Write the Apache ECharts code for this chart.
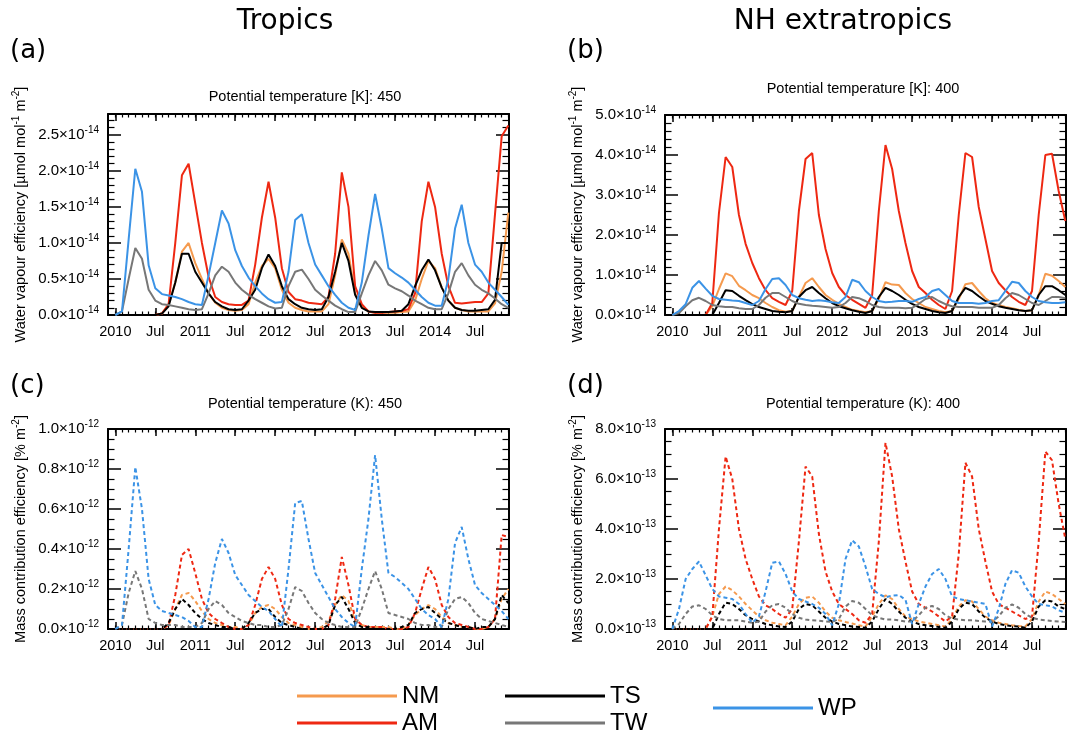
<!DOCTYPE html>
<html><head><meta charset="utf-8">
<script src="https://cdn.jsdelivr.net/npm/echarts@6/dist/echarts.min.js"></script>
<style>html,body{margin:0;padding:0;background:#fff}#c{width:1067px;height:736px}</style>
</head><body><div id="c"></div>
<script>
// ---- x axis: month index 0 = Jan 2010 ... 59 = Dec 2014 ----
const xTickMonths = [0, 6, 12, 18, 24, 30, 36, 42, 48, 54];
const xTickLabels = ['2010', 'Jul', '2011', 'Jul', '2012', 'Jul', '2013', 'Jul', '2014', 'Jul'];
const allMonths = Array.from({length: 60}, (_, i) => i);

// ---- (a) Tropics, water vapour efficiency, units 1e-14 ----
const a_NM = [0,0,0,0,0,0,0,0.02,0.15,0.45,0.88,1.0,0.72,0.5,0.3,0.17,0.1,0.07,0.06,0.07,0.15,0.45,0.68,0.78,0.65,0.35,0.17,0.1,0.07,0.05,0.05,0.05,0.15,0.55,1.05,0.85,0.3,0.12,0.05,0.03,0.03,0.03,0.03,0.04,0.05,0.2,0.5,0.75,0.65,0.38,0.2,0.1,0.07,0.05,0.05,0.05,0.05,0.16,0.6,1.42];
const a_AM = [0,0,0,0,0,0,0,0.02,0.15,1.0,1.94,2.1,1.55,1.0,0.53,0.25,0.18,0.15,0.14,0.14,0.2,0.7,1.35,1.85,1.35,0.65,0.32,0.22,0.2,0.17,0.16,0.15,0.25,0.85,1.98,1.5,0.4,0.15,0.05,0.03,0.03,0.04,0.05,0.06,0.08,0.3,1.3,1.85,1.5,0.85,0.4,0.17,0.16,0.17,0.18,0.18,0.3,1.4,2.48,2.63];
const a_TS = [0,0,0,0,0,0,0,0.02,0.12,0.45,0.85,0.85,0.6,0.45,0.3,0.18,0.12,0.08,0.07,0.08,0.2,0.35,0.65,0.84,0.68,0.4,0.22,0.15,0.1,0.08,0.07,0.08,0.25,0.6,1.0,0.75,0.28,0.1,0.05,0.04,0.04,0.04,0.05,0.06,0.15,0.4,0.62,0.77,0.62,0.38,0.2,0.1,0.07,0.06,0.06,0.07,0.08,0.21,1.0,1.0];
const a_TW = [0,0.05,0.5,0.93,0.78,0.35,0.2,0.15,0.14,0.12,0.1,0.08,0.07,0.08,0.3,0.55,0.67,0.6,0.45,0.35,0.28,0.22,0.17,0.12,0.09,0.1,0.4,0.6,0.63,0.5,0.35,0.27,0.2,0.13,0.08,0.04,0.04,0.3,0.55,0.75,0.62,0.42,0.37,0.33,0.27,0.2,0.15,0.1,0.08,0.08,0.3,0.6,0.72,0.55,0.42,0.35,0.3,0.23,0.15,0.1];
const a_WP = [0,0.05,1.05,2.03,1.71,0.69,0.37,0.29,0.27,0.25,0.22,0.18,0.15,0.14,0.55,1.0,1.45,1.27,0.9,0.68,0.52,0.4,0.3,0.22,0.17,0.18,0.6,1.32,1.4,1.0,0.7,0.55,0.4,0.28,0.17,0.1,0.07,0.45,1.1,1.68,1.2,0.65,0.58,0.52,0.45,0.35,0.25,0.17,0.13,0.13,0.5,1.2,1.53,1.0,0.7,0.6,0.45,0.35,0.25,0.14];

// ---- (b) NH extratropics, water vapour efficiency, units 1e-14 ----
const b_NM = [0,0,0,0,0,0,0.22,0.65,1.04,0.97,0.73,0.62,0.5,0.42,0.3,0.2,0.12,0.08,0.1,0.45,0.8,0.92,0.7,0.5,0.38,0.28,0.2,0.13,0.1,0.07,0.1,0.4,0.82,0.76,0.75,0.55,0.4,0.3,0.2,0.15,0.1,0.07,0.1,0.4,0.77,0.8,0.6,0.42,0.3,0.25,0.2,0.17,0.13,0.1,0.12,0.5,1.03,0.98,0.85,0.7];
const b_AM = [0,0,0,0,0,0,0.3,2.55,3.95,3.7,2.5,1.78,1.3,0.92,0.62,0.42,0.33,0.25,0.6,2.6,3.9,4.05,2.5,1.65,1.05,0.7,0.5,0.38,0.28,0.18,0.5,2.6,4.25,3.65,2.6,1.8,1.1,0.7,0.55,0.38,0.25,0.15,0.6,2.5,4.05,3.95,2.7,1.9,1.1,0.8,0.62,0.45,0.33,0.25,0.6,2.5,4.0,4.03,3.1,2.35];
const b_TS = [0,0,0,0,0,0,0,0.3,0.62,0.6,0.48,0.37,0.27,0.2,0.15,0.1,0.08,0.07,0.1,0.45,0.62,0.7,0.55,0.42,0.3,0.22,0.17,0.12,0.08,0.05,0.1,0.45,0.68,0.6,0.5,0.38,0.28,0.2,0.15,0.1,0.07,0.05,0.1,0.45,0.68,0.6,0.47,0.35,0.28,0.22,0.18,0.15,0.12,0.1,0.12,0.5,0.72,0.72,0.62,0.5];
const b_TW = [0,0.05,0.22,0.37,0.43,0.35,0.25,0.22,0.2,0.2,0.17,0.15,0.15,0.25,0.43,0.55,0.55,0.45,0.35,0.28,0.25,0.23,0.22,0.2,0.18,0.2,0.3,0.45,0.42,0.35,0.25,0.2,0.18,0.18,0.18,0.17,0.18,0.28,0.4,0.45,0.35,0.27,0.22,0.2,0.2,0.2,0.18,0.18,0.18,0.25,0.42,0.55,0.5,0.4,0.3,0.25,0.35,0.45,0.45,0.42];
const b_WP = [0,0.1,0.27,0.68,0.85,0.66,0.48,0.4,0.38,0.36,0.35,0.3,0.25,0.35,0.65,0.9,0.92,0.75,0.5,0.42,0.38,0.35,0.37,0.35,0.32,0.3,0.45,0.88,0.82,0.6,0.45,0.35,0.32,0.33,0.35,0.35,0.33,0.4,0.45,0.6,0.65,0.5,0.35,0.3,0.3,0.3,0.28,0.3,0.35,0.37,0.6,0.83,0.8,0.6,0.45,0.35,0.32,0.3,0.3,0.32];

// ---- (c) Tropics, mass contribution efficiency, units 1e-12 ----
const c_NM = [0,0,0,0,0,0,0,0,0.02,0.1,0.17,0.18,0.14,0.09,0.05,0.03,0.02,0.01,0.01,0,0.02,0.08,0.11,0.12,0.1,0.06,0.03,0.02,0.01,0,0,0.01,0.04,0.12,0.17,0.14,0.04,0.02,0.01,0.01,0.01,0.01,0,0,0.02,0.07,0.1,0.12,0.1,0.06,0.03,0.02,0.01,0.01,0,0,0.01,0.05,0.15,0.2];
const c_AM = [0,0,0,0,0,0,0,0,0.02,0.17,0.37,0.4,0.28,0.15,0.08,0.05,0.03,0.01,0,0,0.02,0.12,0.25,0.31,0.25,0.12,0.05,0.03,0.02,0.01,0,0,0.02,0.15,0.36,0.22,0.05,0.02,0.01,0.01,0.01,0,0,0,0.01,0.08,0.2,0.31,0.25,0.12,0.06,0.03,0.02,0.01,0,0,0.01,0.05,0.47,0.46];
const c_TS = [0,0,0,0,0,0,0,0,0.03,0.1,0.15,0.12,0.08,0.05,0.03,0.02,0.01,0.01,0,0,0.03,0.08,0.1,0.1,0.06,0.03,0.02,0.01,0,0,0,0,0.02,0.12,0.16,0.1,0.03,0.01,0.01,0,0,0,0,0.01,0.02,0.08,0.1,0.11,0.08,0.05,0.03,0.02,0.01,0.01,0,0.01,0.01,0.05,0.17,0.13];
const c_TW = [0,0.02,0.18,0.29,0.2,0.05,0.03,0.02,0.02,0.02,0.01,0.01,0.01,0.03,0.1,0.14,0.12,0.08,0.06,0.04,0.03,0.02,0.02,0.01,0.01,0.02,0.1,0.21,0.19,0.13,0.08,0.05,0.03,0.02,0.01,0.01,0.01,0.1,0.2,0.29,0.2,0.08,0.07,0.06,0.05,0.03,0.02,0.02,0.01,0.01,0.1,0.15,0.16,0.13,0.08,0.05,0.04,0.03,0.02,0.01];
const c_WP = [0,0.02,0.4,0.81,0.6,0.25,0.12,0.09,0.08,0.07,0.06,0.04,0.01,0.01,0.15,0.33,0.45,0.38,0.27,0.22,0.17,0.14,0.11,0.09,0.05,0.01,0.3,0.63,0.64,0.45,0.28,0.22,0.16,0.1,0.06,0.03,0.01,0.3,0.55,0.87,0.55,0.28,0.26,0.23,0.2,0.15,0.1,0.07,0.05,0.01,0.15,0.43,0.51,0.35,0.22,0.18,0.15,0.12,0.09,0.05];

// ---- (d) NH extratropics, mass contribution efficiency, units 1e-13 ----
const d_NM = [0,0,0,0,0,0,0.5,1.4,1.7,1.55,1.3,1.0,0.75,0.5,0.35,0.25,0.2,0.15,0.5,1.0,1.25,1.3,1.05,0.7,0.45,0.35,0.28,0.22,0.15,0.1,0.5,1.0,1.35,1.2,0.8,0.5,0.4,0.3,0.25,0.2,0.15,0.1,0.4,0.9,1.15,1.1,0.8,0.5,0.35,0.25,0.2,0.15,0.12,0.1,0.4,1.1,1.5,1.4,1.2,1.0];
const d_AM = [0,0,0,0,0,0,0.5,4.0,6.9,6.0,4.0,2.8,2.0,1.3,0.95,0.8,0.6,0.45,0.8,3.5,6.5,6.1,3.8,2.3,1.5,1.0,0.8,0.6,0.35,0.25,0.6,3.5,7.45,6.1,4.0,2.7,1.5,1.0,0.85,0.7,0.5,0.3,0.5,3.0,6.65,6.1,4.0,2.7,1.5,1.0,0.85,0.7,0.55,0.4,0.5,3.5,7.1,6.75,5.0,3.6];
const d_TS = [0,0,0,0,0,0,0,0.6,1.05,1.0,0.8,0.55,0.4,0.3,0.2,0.15,0.1,0.08,0.3,0.8,1.0,0.95,0.7,0.45,0.3,0.2,0.15,0.1,0.08,0.05,0.3,0.8,1.2,1.0,0.7,0.45,0.3,0.2,0.15,0.12,0.08,0.05,0.3,0.8,1.05,1.0,0.7,0.45,0.3,0.2,0.15,0.12,0.1,0.05,0.3,0.9,1.15,1.1,0.9,0.8];
const d_TW = [0,0.2,0.6,0.9,0.95,0.8,0.55,0.4,0.35,0.35,0.35,0.3,0.25,0.3,0.7,0.95,1.0,0.85,0.6,0.45,0.38,0.35,0.33,0.3,0.28,0.4,0.9,1.12,1.05,0.8,0.55,0.45,0.38,0.38,0.35,0.3,0.3,0.55,0.85,0.92,0.8,0.55,0.42,0.38,0.35,0.35,0.32,0.3,0.3,0.5,0.85,0.98,0.85,0.6,0.45,0.38,0.35,0.32,0.3,0.28];
const d_WP = [0,0.8,2.0,2.4,2.7,2.15,1.6,1.3,1.25,1.2,1.0,0.6,0.25,0.5,1.5,2.65,2.7,2.2,1.5,1.2,1.1,1.0,0.85,0.6,0.15,1.0,2.8,3.55,3.3,2.5,1.6,1.4,1.27,1.33,1.36,1.17,0.2,1.0,1.7,2.2,2.4,2.0,1.3,1.2,1.15,1.1,1.05,1.0,0.1,0.8,1.8,2.35,2.25,1.7,1.3,1.0,0.95,0.9,0.75,0.65];

const seriesNames = ['NM', 'AM', 'TS', 'TW', 'WP'];
const colors = {NM: '#F59A4E', AM: '#EE2812', TS: '#000000', TW: '#777777', WP: '#3B93E6'};
const F = "'Liberation Sans', Arial, sans-serif";

const panels = [
  {data: {NM: a_NM, AM: a_AM, TS: a_TS, TW: a_TW, WP: a_WP}, max: 2.79, interval: 0.5, minor: 5, exp: '-14', dashed: false,
   grid: {left: 108, top: 114, width: 401, height: 201}},
  {data: {NM: b_NM, AM: b_AM, TS: b_TS, TW: b_TW, WP: b_WP}, max: 5.0, interval: 1.0, minor: 5, exp: '-14', dashed: false,
   grid: {left: 665, top: 115, width: 401, height: 200}},
  {data: {NM: c_NM, AM: c_AM, TS: c_TS, TW: c_TW, WP: c_WP}, max: 1.0, interval: 0.2, minor: 4, exp: '-12', dashed: true,
   grid: {left: 108, top: 429, width: 401, height: 200}},
  {data: {NM: d_NM, AM: d_AM, TS: d_TS, TW: d_TW, WP: d_WP}, max: 8.0, interval: 2.0, minor: 4, exp: '-13', dashed: true,
   grid: {left: 665, top: 429, width: 401, height: 200}}
];

const XMIN = -1.1, XMAX = 59.1;
const black = {color: '#000', width: 1.5};
const grids = [], xAxes = [], yAxes = [], series = [];

panels.forEach((p, pi) => {
  grids.push(Object.assign({containLabel: false}, p.grid));
  const base = {gridIndex: pi, type: 'value', min: XMIN, max: XMAX, splitLine: {show: false}};
  ['bottom', 'top'].forEach(pos => {
    xAxes.push(Object.assign({}, base, {
      position: pos,
      axisLine: {show: true, onZero: false, lineStyle: {color: '#000', width: 2}},
      axisTick: {show: true, inside: true, length: 7, customValues: xTickMonths, lineStyle: black},
      axisLabel: pos === 'bottom' ? {
        show: true, customValues: xTickMonths, margin: 9, color: '#000', fontSize: 14.5, fontFamily: F,
        formatter: v => xTickLabels[xTickMonths.indexOf(Math.round(v))] || ''
      } : {show: false}
    }));
    xAxes.push(Object.assign({}, base, {
      position: pos,
      axisLine: {show: false, onZero: false},
      axisTick: {show: true, inside: true, length: 3.5, customValues: allMonths, lineStyle: {color: '#000', width: 1.2}},
      axisLabel: {show: false}
    }));
  });
  const ybase = {
    gridIndex: pi, type: 'value', min: 0, max: p.max, interval: p.interval,
    splitLine: {show: false}, minorSplitLine: {show: false},
    axisLine: {show: true, onZero: false, lineStyle: {color: '#000', width: 2}},
    axisTick: {show: true, inside: true, length: 13, lineStyle: black},
    minorTick: {show: true, splitNumber: p.minor, length: 6.5, lineStyle: {color: '#000', width: 1.2}}
  };
  yAxes.push(Object.assign({}, ybase, {
    position: 'left',
    axisLabel: {
      show: true, margin: 9, showMaxLabel: pi === 0 ? false : true,
      formatter: v => '{m|' + v.toFixed(1) + '×10}{e|' + p.exp + '}',
      rich: {
        m: {fontSize: 15, fontFamily: F, color: '#000', lineHeight: 19},
        e: {fontSize: 10, fontFamily: F, color: '#000', lineHeight: 10, verticalAlign: 'top'}
      }
    }
  }));
  yAxes.push(Object.assign({}, ybase, {position: 'right', axisLabel: {show: false}}));

  seriesNames.forEach(name => {
    series.push({
      name: name, type: 'line',
      xAxisIndex: pi * 4, yAxisIndex: pi * 2,
      data: p.data[name].map((v, i) => [i, v]),
      showSymbol: false, symbol: 'none', silent: true, clip: true,
      color: colors[name],
      itemStyle: {color: colors[name]},
      lineStyle: {color: colors[name], width: 2, type: p.dashed ? [4, 3] : 'solid'}
    });
  });
});

// one legend per entry so each can be placed exactly
const legendPlace = {
  NM: {left: 297, top: 682.5},
  AM: {left: 297, top: 709.5},
  TS: {left: 505, top: 682.5},
  TW: {left: 505, top: 709.5},
  WP: {left: 713, top: 694.5}
};
const legends = seriesNames.map(name => ({
  data: [name], left: legendPlace[name].left, top: legendPlace[name].top,
  orient: 'horizontal', itemWidth: 100, itemHeight: 3, itemGap: 0, icon: 'rect', padding: 0,
  selectedMode: false, textStyle: {fontSize: 24, fontFamily: F, color: '#000', lineHeight: 27}
}));

const supRich = {
  n: {fontSize: 14.5, fontFamily: F, fill: '#000', lineHeight: 19},
  s: {fontSize: 10, fontFamily: F, fill: '#000', lineHeight: 10, verticalAlign: 'top'}
};
const titleText = (t, x, y, size, fam, align) => ({
  type: 'text', x: x, y: y, silent: true,
  style: {text: t, fontSize: size, fontFamily: fam, fill: '#000', align: align || 'center', verticalAlign: 'middle'}
});
const yName = (t, x, y) => ({
  type: 'text', x: x, y: y, rotation: Math.PI / 2, silent: true,
  style: {text: t, rich: supRich, align: 'center', verticalAlign: 'middle'}
});
const wvName = '{n|Water vapour efficiency [µmol mol}{s|-1}{n| m}{s|-2}{n|]}';
const mcName = '{n|Mass contribution efficiency [% m}{s|-2}{n|]}';

const option = {
  animation: false,
  backgroundColor: '#fff',
  grid: grids, xAxis: xAxes, yAxis: yAxes, series: series,
  legend: legends,
  graphic: [
    titleText('Tropics', 285, 22, 28, 'DejaVu Sans'),
    titleText('NH extratropics', 843, 22, 28, 'DejaVu Sans'),
    titleText('(a)', 10, 51, 26, 'DejaVu Sans', 'left'),
    titleText('(b)', 567, 51, 26, 'DejaVu Sans', 'left'),
    titleText('(c)', 10, 386, 26, 'DejaVu Sans', 'left'),
    titleText('(d)', 567, 386, 26, 'DejaVu Sans', 'left'),
    titleText('Potential temperature [K]: 450', 305, 96.5, 14.5, F),
    titleText('Potential temperature [K]: 400', 863, 89, 14.5, F),
    titleText('Potential temperature (K): 450', 305, 404, 14.5, F),
    titleText('Potential temperature (K): 400', 863, 404, 14.5, F),
    yName(wvName, 21, 214.5),
    yName(wvName, 578, 214.5),
    yName(mcName, 21, 529),
    yName(mcName, 578, 529)
  ]
};

const chart = echarts.init(document.getElementById('c'), null, {renderer: 'canvas'});
chart.setOption(option);
</script>
</body></html>
